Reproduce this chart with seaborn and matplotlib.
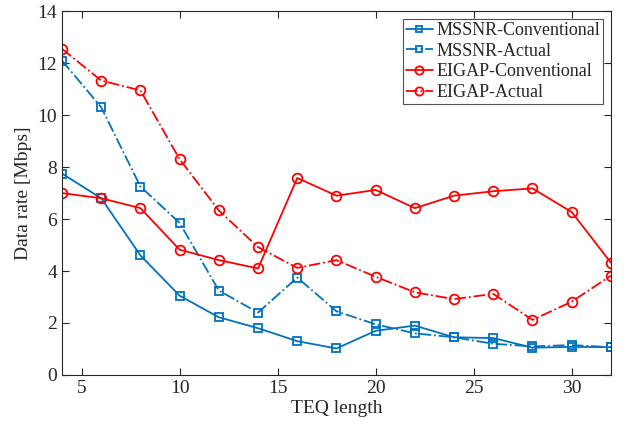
import numpy as np
import pandas as pd
import matplotlib
matplotlib.use("Agg")
import matplotlib.pyplot as plt
import seaborn as sns

# TEQ length and data rates
teq_len = [4, 6, 8, 10, 12, 14, 16, 18, 20, 22, 24, 26, 28, 30, 32]
mssnr_conv = [7.75, 6.8, 4.6, 3.05, 2.22, 1.8, 1.3, 1.02, 1.7, 1.9, 1.45, 1.42, 1.05, 1.08, 1.07]
mssnr_act = [12.1, 10.3, 7.25, 5.85, 3.25, 2.4, 3.75, 2.45, 1.95, 1.6, 1.45, 1.2, 1.1, 1.15, 1.07]
eigap_conv = [7.0, 6.8, 6.42, 4.82, 4.42, 4.1, 7.58, 6.9, 7.12, 6.42, 6.9, 7.07, 7.18, 6.27, 4.32]
eigap_act = [12.55, 11.33, 10.95, 8.3, 6.33, 4.92, 4.12, 4.42, 3.78, 3.18, 2.92, 3.12, 2.12, 2.82, 3.82]

series = [
    ("MSSNR-Conventional", mssnr_conv, "#0072BD", "-", "s"),
    ("MSSNR-Actual", mssnr_act, "#0072BD", "-.", "s"),
    ("EIGAP-Conventional", eigap_conv, "#FF0000", "-", "o"),
    ("EIGAP-Actual", eigap_act, "#FF0000", "-.", "o"),
]

sns.set_style("ticks")
plt.rcParams["font.family"] = ["Liberation Serif", "DejaVu Serif"]

fig = plt.figure(figsize=(6.24, 4.30), dpi=100)
ax = fig.add_axes([0.0994, 0.128, 0.8796, 0.846])

for name, vals, col, ls, mk in series:
    df = pd.DataFrame({"x": teq_len, "y": vals})
    ms = 5.5 if mk == "s" else 7
    sns.lineplot(data=df, x="x", y="y", ax=ax, color=col, linestyle=ls, marker=mk,
                 markersize=ms, markerfacecolor="none", markeredgecolor=col,
                 markeredgewidth=1.3, linewidth=1.3, label=name)

ax.set_xlim(4, 32)
ax.set_ylim(0, 14)
ax.set_xticks([5, 10, 15, 20, 25, 30])
ax.set_yticks(np.arange(0, 15, 2))
ax.set_xlabel("TEQ length", fontsize=14, labelpad=2)
ax.set_ylabel("Data rate [Mbps]", fontsize=14, labelpad=4)
ax.tick_params(direction="in", top=True, right=True, labelsize=14, length=5,
               color="#262626", width=0.8)
for sp in ax.spines.values():
    sp.set_visible(True)
    sp.set_color("#262626")
    sp.set_linewidth(0.8)

leg = ax.legend(loc="upper right", fontsize=13, frameon=True, fancybox=False,
                edgecolor="#262626", borderpad=0.15, labelspacing=0.2,
                handlelength=1.5, handletextpad=0.2, borderaxespad=0.45,
                markerscale=0.85)
leg.get_frame().set_linewidth(0.8)

fig.savefig("out.png", dpi=100)
